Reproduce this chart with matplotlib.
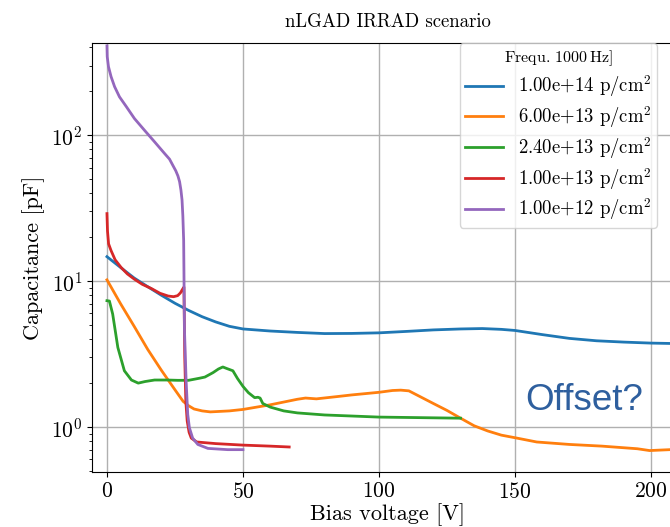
import matplotlib
matplotlib.use("Agg")
import matplotlib.pyplot as plt
import numpy as np

plt.rcParams['font.family'] = 'serif'
plt.rcParams['font.serif'] = ['cmr10']
plt.rcParams['mathtext.fontset'] = 'cm'
plt.rcParams['axes.formatter.use_mathtext'] = True
plt.rcParams['axes.unicode_minus'] = False

# ---- data ----
x_1e14 = [0, 5, 10, 15, 20, 25, 30, 35, 40, 45, 50, 60, 70, 80, 90, 100, 110, 120, 130, 138, 145, 150, 160, 170, 180, 190, 200, 210]
c_1e14 = [14.7, 12.4, 10.5, 9.15, 8.0, 7.05, 6.3, 5.7, 5.25, 4.9, 4.7, 4.55, 4.45, 4.37, 4.38, 4.42, 4.52, 4.63, 4.7, 4.73, 4.67, 4.59, 4.3, 4.05, 3.9, 3.82, 3.76, 3.73]

x_6e13 = [0, 5, 10, 15, 20, 25, 28, 30, 32, 35, 38, 45, 50, 60, 70, 73, 77, 85, 90, 100, 105, 108, 111, 115, 120, 125, 130, 135, 140, 145, 150, 158, 170, 182, 195, 199.5, 207]
c_6e13 = [10.2, 7.0, 4.9, 3.4, 2.45, 1.8, 1.5, 1.4, 1.33, 1.29, 1.27, 1.29, 1.32, 1.42, 1.55, 1.58, 1.56, 1.62, 1.66, 1.73, 1.78, 1.79, 1.77, 1.62, 1.45, 1.3, 1.15, 1.02, 0.94, 0.88, 0.845, 0.79, 0.76, 0.74, 0.71, 0.69, 0.70]

x_2p4e13 = [0, 0.9, 2.1, 4.0, 6.4, 9, 11.5, 14, 17.5, 22, 26, 30, 34, 36, 39, 41, 42.6, 44, 46.3, 48, 50, 52, 54.3, 55.5, 56.3, 57.3, 60, 65, 70, 80, 90, 100, 115, 130]
c_2p4e13 = [7.34, 7.3, 5.95, 3.51, 2.43, 2.1, 2.0, 2.05, 2.1, 2.1, 2.09, 2.09, 2.16, 2.2, 2.36, 2.5, 2.58, 2.52, 2.43, 2.15, 1.9, 1.72, 1.59, 1.6, 1.58, 1.45, 1.37, 1.29, 1.25, 1.21, 1.19, 1.17, 1.16, 1.15]

x_1e13 = [0, 0.2, 0.6, 1.5, 3, 5.2, 7.5, 10.1, 13, 16.3, 19.5, 22.5, 24.5, 26.0, 27.0, 27.8, 28.3, 28.6, 29.0, 29.5, 30.2, 31, 33, 40, 50, 60, 67]
c_1e13 = [29.0, 22.0, 18.0, 16.2, 14.0, 12.4, 11.2, 10.3, 9.5, 8.9, 8.25, 7.9, 7.82, 7.95, 8.3, 8.8, 9.1, 3.0, 1.5, 1.1, 0.92, 0.84, 0.79, 0.77, 0.752, 0.74, 0.73]

x_1e12 = [0, 0.1, 0.55, 1.5, 2.8, 4.6, 7.1, 10.1, 13.8, 17.5, 21.2, 23.0, 24.2, 25.3, 26.1, 26.7, 27.2, 27.6, 27.9, 28.2, 28.5, 29.1, 29.7, 30.3, 31.5, 33.4, 37.1, 44.4, 50]
c_1e12 = [409, 345, 295, 252, 215, 183, 157, 130, 108, 90, 74.8, 68.5, 62.2, 57.0, 52.5, 48.0, 42.0, 36.0, 28.0, 19.0, 4.6, 2.07, 1.22, 0.99, 0.84, 0.76, 0.714, 0.70, 0.70]

series = [
    (x_1e14, c_1e14, r"1.00e+14 p/cm$^2$"),
    (x_6e13, c_6e13, r"6.00e+13 p/cm$^2$"),
    (x_2p4e13, c_2p4e13, r"2.40e+13 p/cm$^2$"),
    (x_1e13, c_1e13, r"1.00e+13 p/cm$^2$"),
    (x_1e12, c_1e12, r"1.00e+12 p/cm$^2$"),
]
colors = ['#1f77b4', '#ff7f0e', '#2ca02c', '#d62728', '#9467bd']

fig = plt.figure(figsize=(6.7, 5.27), dpi=100)
ax = fig.add_axes([92/670, 1 - 472/527, 1 - 92/670 + 0.02, (472 - 42.7)/527])

for (xs, cs, lab), col in zip(series, colors):
    ax.plot(xs, cs, color=col, lw=2, label=lab)

ax.set_yscale('log')
ax.set_xlim(-5.5, 207 + 0.02 * 670 / 2.7187)
ax.set_ylim(0.492, 430)
ax.set_xticks([0, 50, 100, 150, 200])
ax.grid(True, which='major', color='#b0b0b0', lw=1)
ax.spines['right'].set_visible(False)
ax.tick_params(labelsize=15.5)
ax.set_xlabel("Bias voltage [V]", fontsize=16, labelpad=1)
ax.set_ylabel("Capacitance [pF]", fontsize=16)
ax.set_title("nLGAD IRRAD scenario", fontsize=13.5, pad=11)

leg = ax.legend(loc='upper right', bbox_to_anchor=(657/670, 1 - 43/527),
                bbox_transform=fig.transFigure, borderaxespad=0,
                fontsize=13.5, labelspacing=0.26, borderpad=0.3,
                title=r"Frequ. $1000\,$Hz]", title_fontsize=11.5)

fig.text(525/670, 1 - 410/527, "Offset?", fontsize=26.5, color='#2e5f9e',
         family='Liberation Sans', ha='left', va='baseline')

fig.savefig("out.png", dpi=100)
